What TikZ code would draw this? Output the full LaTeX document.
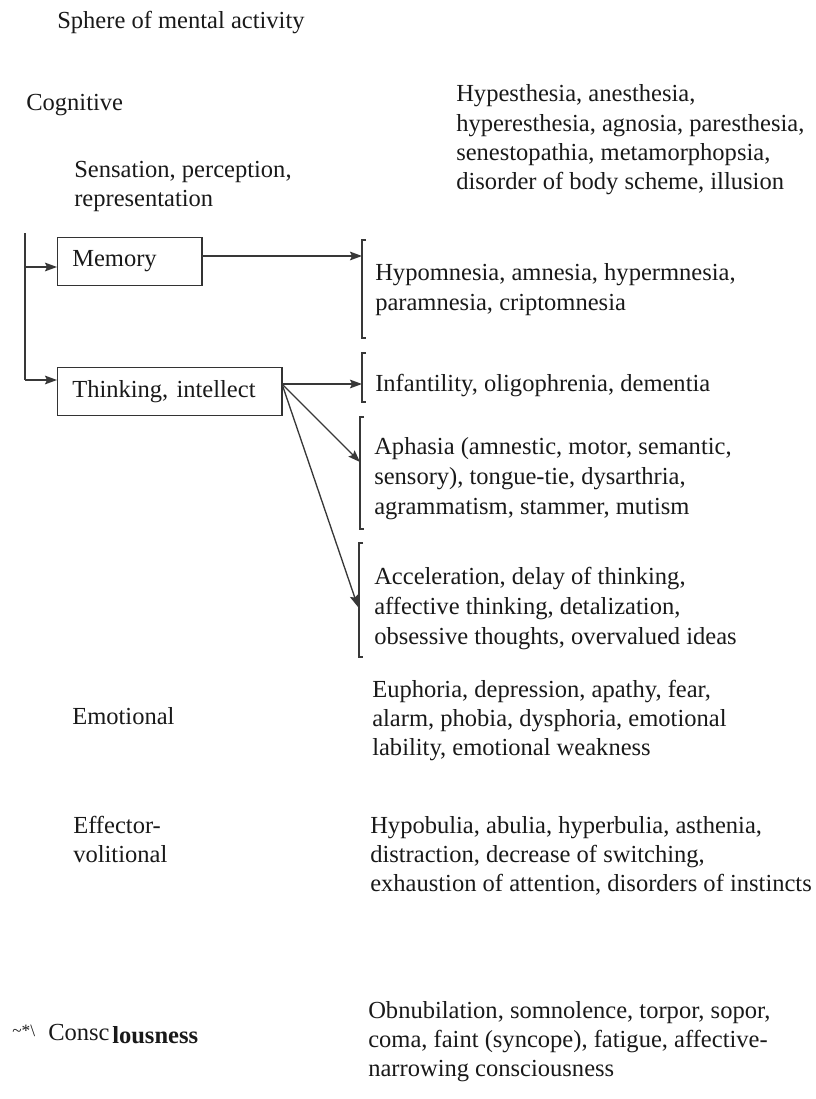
\documentclass[tikz,border=0pt]{standalone}
\usepackage{fontspec}
\setmainfont{Liberation Serif}
\usetikzlibrary{arrows.meta}
\newcommand{\rows}[1]{\begin{tabular}[t]{@{}l@{}}#1\end{tabular}}
\begin{document}
\begin{tikzpicture}[x=0.75pt,y=-0.75pt,
  txt/.style={font=\fontsize{18.4}{22}\selectfont, inner sep=0pt, anchor=base west, text=black!90},
  widetxt/.style={txt, font=\fontsize{18.4}{22.6}\selectfont},
  boxnode/.style={draw=black!80, line width=0.9pt, font=\fontsize{18.4}{22}\selectfont, inner xsep=11pt, inner ysep=0pt, minimum height=36pt, align=left, anchor=north west, text=black!90},
  conn/.style={draw=black!78, line width=1pt},
  arr/.style={conn, -{Stealth[length=9pt,width=6.5pt,inset=1.5pt]}},
  brk/.style={draw=black!78, line width=1pt}]
\useasboundingbox (0,0) rectangle (816,1099);

% titles and left labels
\node[txt] (title) at (57,29) {Sphere of mental activity};
\node[txt] (cog) at (26,110) {Cognitive};
\node[txt] (sens) at (74,177) {\rows{Sensation, perception,\\representation}};
\node[txt] (emo) at (72,724) {Emotional};
\node[txt] (eff) at (73,833) {\rows{Effector-\\volitional}};
\node[txt, font=\fontsize{13}{15}\selectfont] (mark) at (12,1036) {\textasciitilde*\textbackslash};
\node[txt] (cons) at (48,1040) {Consc\hspace{2pt}\raisebox{-0.35ex}{\textbf{lousness}}};

% right hand texts
\node[txt] (t1) at (456,102) {\rows{Hypesthesia, anesthesia,\\hyperesthesia, agnosia, paresthesia,\\senestopathia, metamorphopsia,\\disorder of body scheme, illusion}};
\node[widetxt] (t2) at (375,280) {\rows{Hypomnesia, amnesia, hypermnesia,\\paramnesia, criptomnesia}};
\node[txt] (t3) at (375,391) {Infantility, oligophrenia, dementia};
\node[widetxt] (t4) at (374,454) {\rows{Aphasia (amnestic, motor, semantic,\\sensory), tongue-tie, dysarthria,\\agrammatism, stammer, mutism}};
\node[widetxt] (t5) at (374,584) {\rows{Acceleration, delay of thinking,\\affective thinking, detalization,\\obsessive thoughts, overvalued ideas}};
\node[txt] (t6) at (372,697) {\rows{Euphoria, depression, apathy, fear,\\alarm, phobia, dysphoria, emotional\\lability, emotional weakness}};
\node[txt] (t7) at (370,833) {\rows{Hypobulia, abulia, hyperbulia, asthenia,\\distraction, decrease of switching,\\exhaustion of attention, disorders of instincts}};
\node[txt] (t8) at (368,1018) {\rows{Obnubilation, somnolence, torpor, sopor,\\coma, faint (syncope), fatigue, affective-\\narrowing consciousness}};

% boxes
\node[boxnode, text width=86.25pt] (mem) at (57,237) {Memory};
\node[boxnode, text width=146.25pt] (thk) at (57,367) {Thinking, intellect};

% brackets
\draw[brk] (366,240) -- (362,240) -- (362,338) -- (366,338);
\draw[brk] (366,353) -- (362,353) -- (362,402) -- (366,402);
\draw[brk] (364,417) -- (360,417) -- (360,529) -- (364,529);
\draw[brk] (363,543) -- (359,543) -- (359,657) -- (363,657);
\coordinate (b1) at (362,256);
\coordinate (b2) at (362,384);
\coordinate (b3) at (360,462);
\coordinate (b4) at (358,607);

% trunk on the left
\coordinate (trtop) at (25,233);
\coordinate (trm) at (25,267);
\coordinate (trt) at (25,380);
\draw[conn] (trtop) -- (trt);
\draw[arr] (trm) -- (trm -| mem.west);
\draw[arr] (trt) -- (trt -| thk.west);

% outgoing arrows
\coordinate (mo) at (202,256);
\coordinate (to) at (282,384);
\draw[arr] (mo) -- (b1);
\draw[arr] (to) -- (b2);
\draw[arr] (to) -- (b3);
\draw[arr] (to) -- (b4);
\end{tikzpicture}
\end{document}
